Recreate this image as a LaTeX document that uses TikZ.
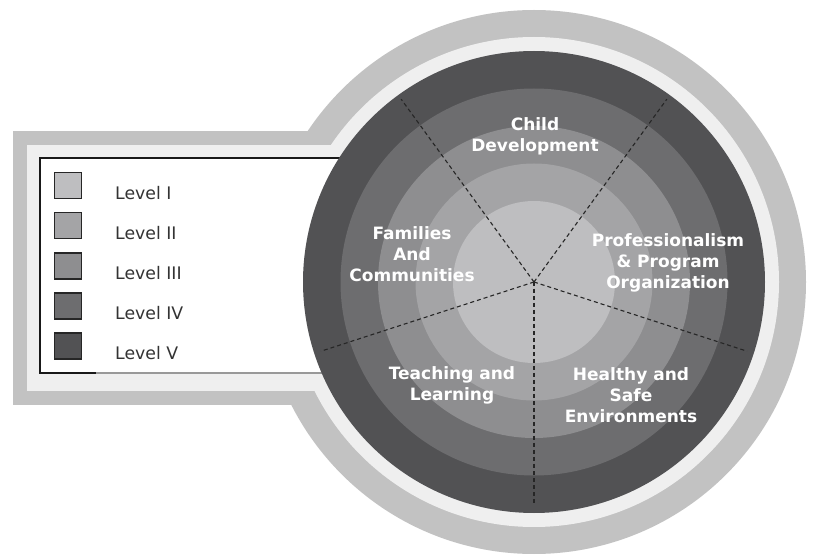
\documentclass[tikz,border=0pt]{standalone}
\usepackage{fontspec}
\setmainfont{DejaVu Sans}
\definecolor{ringgray}{HTML}{C2C2C2}
\definecolor{ringlight}{HTML}{EFEFEF}
\definecolor{lvI}{HTML}{BEBEC0}
\definecolor{lvII}{HTML}{A4A4A6}
\definecolor{lvIII}{HTML}{8E8E90}
\definecolor{lvIV}{HTML}{6D6D6F}
\definecolor{lvV}{HTML}{525254}
\begin{document}
\begin{tikzpicture}[x=1pt,y=-1pt,
  lbl/.style={text=white, font=\fontsize{17}{21}\selectfont\bfseries, align=center, inner sep=0pt},
  legtext/.style={text=black!80, font=\fontsize{17.3}{21}\selectfont, anchor=base west, inner sep=0pt},
  swatch/.style={draw=black!85, line width=1.3pt, minimum width=27pt, minimum height=26pt, inner sep=0pt},
  ray/.style={draw=black!85, dash pattern=on 4pt off 3pt, line width=1.1pt}]
\useasboundingbox (0,0) rectangle (815,556);
\coordinate (c) at (534,282);
% outer gray band
\fill[ringgray] (c) circle[radius=272];
\fill[ringgray] (13,131) rectangle (534,405);
% light band
\fill[ringlight] (c) circle[radius=245];
\fill[ringlight] (27,145) rectangle (534,391);
% legend box
\draw[fill=white, line width=1.3pt, draw=black!90] (40,158) rectangle (534,373);
\draw[black!40, line width=1.3pt] (96,373) -- (360,373);
% rings
\fill[lvV] (c) circle[radius=231];
\fill[lvIV] (c) circle[radius=193.5];
\fill[lvIII] (c) circle[radius=156];
\fill[lvII] (c) circle[radius=118.5];
\fill[lvI] (c) circle[radius=81];
% rays
\path (c) ++(18:224) coordinate (r1);
\path (c) ++(90:222) coordinate (r2);
\path (c) ++(162:224) coordinate (r3);
\path (c) ++(234:226) coordinate (r4);
\path (c) ++(306:226) coordinate (r5);
\foreach \r in {r1,r2,r3,r4,r5} \draw[ray] (c) -- (\r);
% labels
\node[lbl] (cd) at (535,136) {Child\\Development};
\node[lbl] (fam) at (412,254) {Families\\And\\Communities};
\node[lbl] (prof) at (668,263) {Professionalism\\\&~Program\\Organization};
\node[lbl] (teach) at (452,385) {Teaching and\\Learning};
\node[lbl] (health) at (631,395) {Healthy and\\Safe\\Environments};
% legend
\node[swatch, fill=lvI]   (s1) at (68,185.5) {};
\node[swatch, fill=lvII]  (s2) at (68,225.5) {};
\node[swatch, fill=lvIII] (s3) at (68,266) {};
\node[swatch, fill=lvIV]  (s4) at (68,306) {};
\node[swatch, fill=lvV]   (s5) at (68,346) {};
\node[legtext] (t1) at (115,200) {Level I};
\node[legtext] (t2) at (115,240) {Level II};
\node[legtext] (t3) at (115,280) {Level III};
\node[legtext] (t4) at (115,320) {Level IV};
\node[legtext] (t5) at (115,360) {Level V};
\end{tikzpicture}
\end{document}
